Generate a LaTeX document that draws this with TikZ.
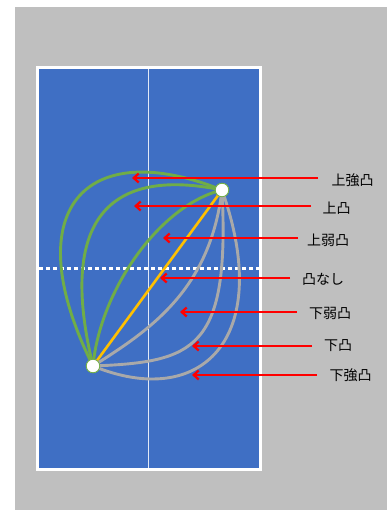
\documentclass[tikz,border=0pt]{standalone}
\usepackage{fontspec}
\setmainfont{Noto Sans CJK JP}
\usetikzlibrary{arrows.meta}
\definecolor{bgGray}{HTML}{BFBFBF}
\definecolor{tableBlue}{HTML}{3F6FC4}
\definecolor{curveGreen}{HTML}{70AD47}
\definecolor{curveGray}{HTML}{A9A9A9}
\definecolor{lineYellow}{HTML}{FFC000}
\definecolor{arrowRed}{HTML}{FF0000}
\tikzset{
  greencurve/.style={draw=curveGreen, line width=2.9pt},
  graycurve/.style={draw=curveGray, line width=2.9pt},
  yellowline/.style={draw=lineYellow, line width=2.6pt},
  redarrow/.style={draw=arrowRed, line width=2.3pt, -{Straight Barb[length=5pt,width=9pt]}},
  ball/.style={circle, fill=white, draw=curveGreen, line width=0.8pt, minimum size=13.5pt, inner sep=0pt},
  lbl/.style={font=\fontsize{14pt}{16pt}\selectfont, text=black, inner sep=0pt}
}
\begin{document}
\begin{tikzpicture}[x=1pt,y=-1pt]
\useasboundingbox (0,0) rectangle (387,510);
\fill[white] (0,0) rectangle (387,510);
\fill[bgGray] (15,7) rectangle (387,510);
% table
\draw[white, line width=3pt, fill=tableBlue] (37.5,68) rectangle (260.5,469.5);
\draw[white!85!tableBlue, line width=1pt] (148.5,69.5) -- (148.5,468);
\draw[white, line width=3pt, dash pattern=on 3.5pt off 3.5pt] (39,268) -- (259,268);
% balls (positions)
\node[ball] (B) at (93,366) {};
\node[ball] (T) at (222,190) {};
% curves
\draw[greencurve] (B.center) .. controls (15,210) and (85,135) .. (T.center);
\draw[greencurve] (B.center) .. controls (60,230) and (100,165) .. (T.center);
\draw[greencurve] (B.center) .. controls (100,290) and (160,205) .. (T.center);
\draw[yellowline] (B.center) -- (T.center);
\draw[graycurve] (B.center) .. controls (150,330) and (210,290) .. (T.center);
\draw[graycurve] (B.center) .. controls (195,362) and (230,350) .. (T.center);
\draw[graycurve] (B.center) .. controls (200,410) and (275,340) .. (T.center);
% redraw balls on top
\node[ball] at (B.center) {};
\node[ball] at (T.center) {};
% labels
\node[lbl] (l1) at (352.5,180.5) {上強凸};
\node[lbl] (l2) at (336.5,208.5) {上凸};
\node[lbl] (l3) at (328,240.5) {上弱凸};
\node[lbl] (l4) at (323,279) {凸なし};
\node[lbl] (l5) at (330,313) {下弱凸};
\node[lbl] (l6) at (338,346) {下凸};
\node[lbl] (l7) at (350.5,375.5) {下強凸};
% arrow coordinates
\coordinate (s1) at (318,178); \coordinate (e1) at (132,178);
\coordinate (s2) at (311,206); \coordinate (e2) at (134,206);
\coordinate (s3) at (298,238); \coordinate (e3) at (163,238);
\coordinate (s4) at (290,278); \coordinate (e4) at (160,278);
\coordinate (s5) at (297,312); \coordinate (e5) at (180,312);
\coordinate (s6) at (312,346); \coordinate (e6) at (192,346);
\coordinate (s7) at (317,375); \coordinate (e7) at (192,375);
\foreach \i in {1,...,7} {\draw[redarrow] (s\i) -- (e\i);}
\end{tikzpicture}
\end{document}
